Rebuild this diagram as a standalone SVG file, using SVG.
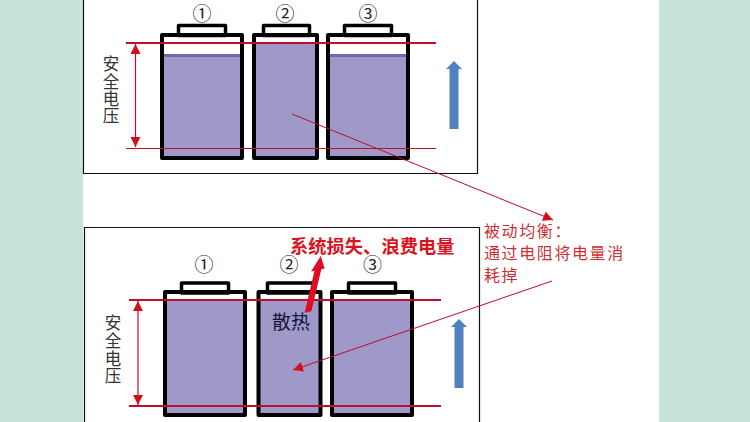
<svg xmlns="http://www.w3.org/2000/svg" width="750" height="422" viewBox="0 0 750 422">
<style>
.cap{fill:#fff;stroke:#000;stroke-width:3.500;stroke-linejoin:round}
.outline{fill:none;stroke:#000;stroke-width:4;stroke-linejoin:round}
.liq{fill:#9f99c9}
.band{fill:#6f69b0}
.rl{stroke:#c00d2a;fill:none}
.thin{stroke:#b5102c;stroke-width:1;fill:none}
.frame{stroke:#111;stroke-width:1.200;fill:none}
.num{font-size:19px;text-anchor:middle;font-family:"Noto Sans CJK SC","DejaVu Sans",sans-serif;fill:#222}
.v{font-size:16.500px;text-anchor:middle;font-family:"Noto Sans CJK SC",sans-serif;fill:#333}
.note{font-size:16px;letter-spacing:1.600px;font-family:"Noto Sans CJK SC",sans-serif;fill:#cc3034}
</style>
<defs>
<marker id="ah" viewBox="0 0 10 10" refX="10" refY="5" markerWidth="10" markerHeight="10" markerUnits="userSpaceOnUse" orient="auto-start-reverse"><path d="M0 0L10 5L0 10Z" fill="#d0101c"/></marker>
</defs>
<rect width="750" height="422" fill="#c8e4da"/>
<rect x="83" width="576" height="422" fill="#fff"/>
<g id="frames">
<path class="frame" d="M83.500 0V173.500H477.500V0"/>
<path class="frame" d="M84.500 422V227.500H479.500V422"/>
</g>
<g id="top-battery-1">
<rect class="cap" x="178.500" y="25.500" width="47" height="10"/>
<rect class="liq" x="162" y="55" width="80" height="103"/><rect class="band" x="162" y="54" width="80" height="3"/>
<rect class="outline" x="162" y="35" width="80" height="123"/>
<text class="num" x="202" y="21">①</text>
</g>
<g id="top-battery-2">
<rect class="cap" x="263.500" y="25.500" width="46" height="10"/>
<rect class="liq" x="254" y="43" width="63" height="115"/>
<rect class="outline" x="254" y="35" width="63" height="123"/>
<text class="num" x="285" y="21">②</text>
</g>
<g id="top-battery-3">
<rect class="cap" x="344.500" y="25.500" width="47" height="10"/>
<rect class="liq" x="328" y="55" width="80" height="103"/><rect class="band" x="328" y="54" width="80" height="3"/>
<rect class="outline" x="328" y="35" width="80" height="123"/>
<text class="num" x="368" y="21">③</text>
</g>
<g id="top-label">
<text class="v" x="111" y="70">安</text><text class="v" x="111" y="88">全</text><text class="v" x="111" y="105">电</text><text class="v" x="111" y="122">压</text>
</g>
<g id="top-up-arrow"><path d="M449.500 129V69H446L454 61L462 69H458.500V129Z" fill="#4f81bd"/></g>
<g id="bottom-battery-1">
<rect class="cap" x="181.500" y="283" width="47" height="10"/>
<rect class="liq" x="165" y="300" width="80" height="115"/>
<rect class="outline" x="165" y="292" width="80" height="123"/>
<text class="num" x="204" y="272">①</text>
</g>
<g id="bottom-battery-2">
<rect class="cap" x="267.500" y="283" width="46" height="10"/>
<rect class="liq" x="258.500" y="300" width="62" height="115"/>
<rect class="outline" x="258.500" y="292" width="62" height="123"/>
<text class="num" x="289" y="272">②</text>
<text x="272" y="329" font-size="19" font-family="Noto Sans CJK SC,sans-serif" fill="#14143c">散热</text>
</g>
<g id="bottom-battery-3">
<rect class="cap" x="348.500" y="283" width="47" height="10"/>
<rect class="liq" x="332" y="300" width="80" height="115"/>
<rect class="outline" x="332" y="292" width="80" height="123"/>
<text class="num" x="372.500" y="272">③</text>
</g>
<g id="bottom-label">
<text class="v" x="113" y="329">安</text><text class="v" x="113" y="347">全</text><text class="v" x="113" y="364.500">电</text><text class="v" x="113" y="382">压</text>
</g>
<g id="bottom-up-arrow"><path d="M454.500 388V327H451L459 319L467 327H463.500V388Z" fill="#4f81bd"/></g>
<g id="connectors">
<path class="rl" stroke-width="2" d="M126 43H436"/>
<path class="rl" stroke-width="1.200" d="M126 148.500H436"/>
<path class="rl" stroke-width="1.200" d="M135.500 44V147" marker-start="url(#ah)" marker-end="url(#ah)"/>
<path class="rl" stroke-width="2" d="M129 300H441"/>
<path class="rl" stroke-width="2" d="M129 406H441"/>
<path class="rl" stroke-width="1.200" d="M138 301V405" marker-start="url(#ah)" marker-end="url(#ah)"/>
<path class="thin" d="M292 114L553 220" marker-end="url(#ah)"/>
<path class="thin" d="M552 281L293 370" marker-end="url(#ah)"/>
<path d="M304.600 312.800L314.500 270.800L311.100 271.600L320.700 256L324.700 268.400L321.300 269.200L311.400 311.200Z" fill="#e00b25"/>
</g>
<g id="notes">
<text x="290" y="253" font-size="18.300" font-weight="700" font-family="Noto Sans CJK SC,sans-serif" fill="#d9141e">系统损失、浪费电量</text>
<text class="note" x="484" y="237">被动均衡：</text>
<text class="note" x="484" y="259">通过电阻将电量消</text>
<text class="note" x="484" y="281">耗掉</text>
</g>
</svg>
